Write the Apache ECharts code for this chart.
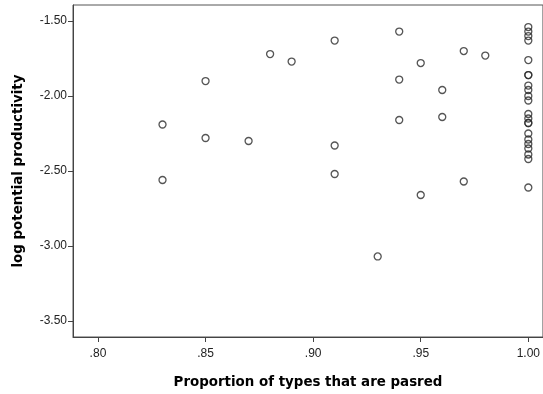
<!DOCTYPE html>
<html>
<head>
	<meta charset="utf-8"/>
	<script src="https://cdn.jsdelivr.net/npm/echarts@6/dist/echarts.min.js"></script>
	<style>
		html, body { margin: 0; padding: 0; background: #fff; }
		#chart { width: 543px; height: 394px; }
	</style>
	<title>log potential productivity</title>
</head>
<body>
	<div id="chart"></div>
	<script>
		// proportion of types that are parsed (x)
		const proportion = [
			0.83, 0.83,
			0.85, 0.85,
			0.87, 0.88, 0.89,
			0.91, 0.91, 0.91,
			0.93,
			0.94, 0.94, 0.94,
			0.95, 0.95,
			0.96, 0.96,
			0.97, 0.97,
			0.98,
			1.00, 1.00, 1.00, 1.00, 1.00, 1.00, 1.00, 1.00, 1.00, 1.00, 1.00,
			1.00, 1.00, 1.00, 1.00, 1.00, 1.00, 1.00, 1.00, 1.00, 1.00, 1.00
		];
		// log potential productivity (y)
		const logProductivity = [
			-2.19, -2.56,
			-1.90, -2.28,
			-2.30, -1.72, -1.77,
			-1.63, -2.33, -2.52,
			-3.07,
			-1.57, -1.89, -2.16,
			-1.78, -2.66,
			-1.96, -2.14,
			-1.70, -2.57,
			-1.73,
			-1.54, -1.57, -1.60, -1.63, -1.76, -1.86, -1.86, -1.93, -1.96, -2.00, -2.03,
			-2.12, -2.15, -2.18, -2.18, -2.25, -2.29, -2.32, -2.35, -2.39, -2.42, -2.61
		];
		const xTicks = [0.80, 0.85, 0.90, 0.95, 1.00];
		const yTicks = [-3.50, -3.00, -2.50, -2.00, -1.50];

		const points = proportion.map((x, i) => [x, logProductivity[i]]);
		const axisColor = '#444';
		const font = 'Liberation Sans, Arial, sans-serif';
		const titleFont = 'DejaVu Sans, Verdana, sans-serif';

		const chart = echarts.init(document.getElementById('chart'));
		chart.setOption({
			animation: false,
			backgroundColor: '#fff',
			grid: {
				left: 73, top: 5, right: -2, bottom: 56,
				show: true, borderColor: '#555', borderWidth: 1, backgroundColor: 'transparent'
			},
			xAxis: {
				type: 'value',
				min: 0.7884, max: 1.0068,
				name: 'Proportion of types that are pasred',
				nameLocation: 'middle', nameGap: 39,
				nameTextStyle: { fontFamily: titleFont, fontSize: 13.4, fontWeight: 'bold', color: '#000' },
				axisLine: { show: true, lineStyle: { color: axisColor, width: 1 } },
				axisTick: { show: true, length: 5, customValues: xTicks, lineStyle: { color: axisColor } },
				axisLabel: {
					customValues: xTicks, margin: 11,
					fontFamily: font, fontSize: 12, color: '#222',
					formatter: v => v.toFixed(2).replace(/^0/, '')
				},
				splitLine: { show: false }
			},
			yAxis: {
				type: 'value',
				min: -3.607, max: -1.393,
				name: 'log potential productivity',
				nameLocation: 'middle', nameGap: 48,
				nameTextStyle: { fontFamily: titleFont, fontSize: 13.4, fontWeight: 'bold', color: '#000' },
				axisLine: { show: true, lineStyle: { color: axisColor, width: 1 } },
				axisTick: { show: true, length: 5, customValues: yTicks, lineStyle: { color: axisColor } },
				axisLabel: {
					customValues: yTicks, margin: 6,
					fontFamily: font, fontSize: 12, color: '#222',
					formatter: v => v.toFixed(2)
				},
				splitLine: { show: false }
			},
			series: [{
				type: 'scatter',
				data: points,
				symbol: 'circle',
				symbolSize: 7,
				itemStyle: { color: 'transparent', borderColor: '#2a2a2a', borderWidth: 1.3 }
			}]
		});
	</script>
</body>
</html>
